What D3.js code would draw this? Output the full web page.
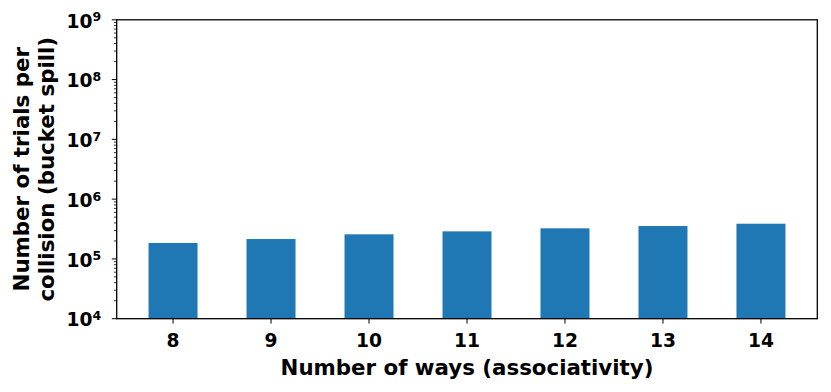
<!DOCTYPE html>
<html><head><meta charset="utf-8">
<script src="https://cdn.jsdelivr.net/npm/d3@7"></script>
<style>body{margin:0;background:#fff}text{font-family:"DejaVu Sans";font-weight:bold}</style>
</head><body>
<svg id="c" width="831" height="392"></svg>
<script>
const categories = ["8","9","10","11","12","13","14"];
const values = [1.85e5, 2.15e5, 2.58e5, 2.89e5, 3.25e5, 3.55e5, 3.88e5];
const yTickExps = [4,5,6,7,8,9];
const xTitle = "Number of ways (associativity)";
const yTitle = ["Number of trials per", "collision (bucket spill)"];

const svg = d3.select("#c");
const L = 116.7, R = 817.3, T = 19.8, B = 318.7;
const x = d3.scaleLinear().domain([-0.575, categories.length - 1 + 0.575]).range([L, R]);
const y = d3.scaleLog().domain([1e4, 1e9]).range([B, T]);
const barW = 0.5;

svg.append("g").selectAll("rect").data(values).join("rect")
  .attr("x", (d,i) => x(i - barW/2))
  .attr("width", (d,i) => x(i + barW/2) - x(i - barW/2))
  .attr("y", d => y(d))
  .attr("height", d => B - y(d))
  .attr("fill", "#1f77b4");

// minor ticks
const minor = [];
for (let e = 4; e < 9; e++) for (let m = 2; m <= 9; m++) minor.push(m * Math.pow(10, e));
svg.append("g").selectAll("line").data(minor).join("line")
  .attr("x1", L - 2.8).attr("x2", L)
  .attr("y1", d => y(d)).attr("y2", d => y(d))
  .attr("stroke", "#000").attr("stroke-width", 0.8);

// y major ticks
const yg = svg.append("g");
yg.selectAll("line").data(yTickExps).join("line")
  .attr("x1", L - 4.9).attr("x2", L)
  .attr("y1", d => y(Math.pow(10, d))).attr("y2", d => y(Math.pow(10, d)))
  .attr("stroke", "#000").attr("stroke-width", 1);
const yl = yg.selectAll("text").data(yTickExps).join("text")
  .attr("x", L - 15.5).attr("y", d => y(Math.pow(10, d)) + 7.7)
  .attr("text-anchor", "end").attr("font-size", 18.67).attr("fill", "#000");
yl.append("tspan").text("10");
yl.append("tspan").attr("dy", -6.2).attr("font-size", 12.5).text(d => d);

// x ticks
const xg = svg.append("g");
xg.selectAll("line").data(categories).join("line")
  .attr("x1", (d,i) => x(i)).attr("x2", (d,i) => x(i))
  .attr("y1", B).attr("y2", B + 4.9)
  .attr("stroke", "#000").attr("stroke-width", 1);
xg.selectAll("text").data(categories).join("text")
  .attr("x", (d,i) => x(i)).attr("y", 347)
  .attr("text-anchor", "middle").attr("font-size", 18.67).attr("fill", "#000")
  .text(d => d);

// frame
svg.append("rect").attr("x", L).attr("y", T).attr("width", R - L).attr("height", B - T)
  .attr("fill", "none").attr("stroke", "#000").attr("stroke-width", 1.3);

// titles
svg.append("text").attr("x", (L + R) / 2).attr("y", 374.5)
  .attr("text-anchor", "middle").attr("font-size", 21.33).text(xTitle);
const yt = svg.append("text").attr("transform", `translate(0,${(T + B) / 2}) rotate(-90)`)
  .attr("text-anchor", "middle").attr("font-size", 21.33);
yTitle.forEach((t, i) => yt.append("tspan").attr("x", 0).attr("y", 29 + i * 24.5).text(t));
</script>
</body></html>
